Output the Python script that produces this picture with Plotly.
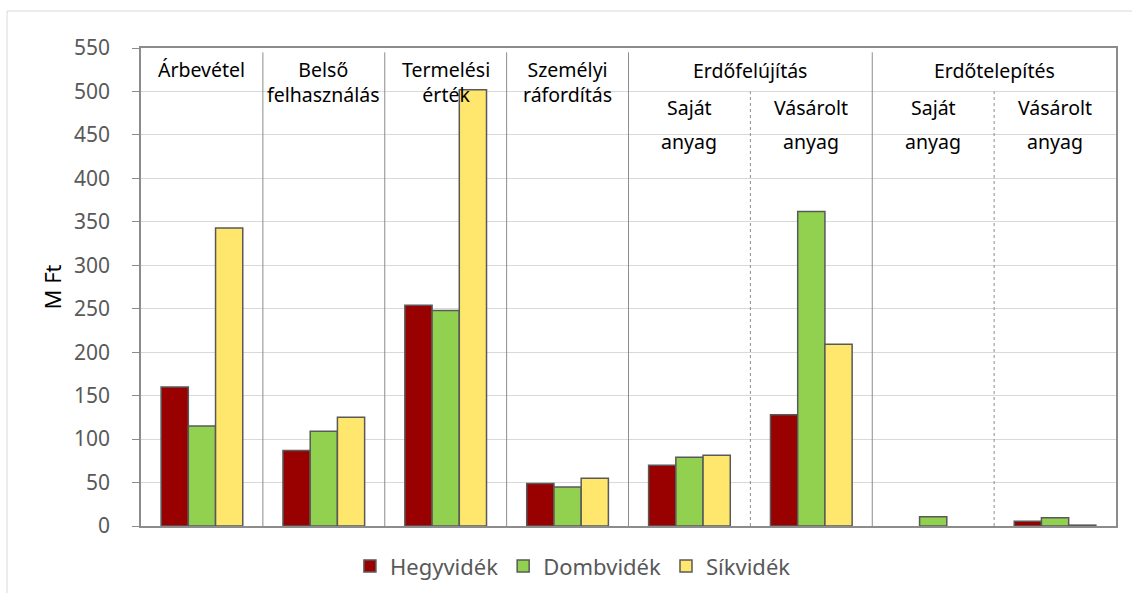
import plotly.graph_objects as go

slots = ["Árbevétel", "Belső felhasználás", "Termelési érték", "Személyi ráfordítás",
         "Erdőfelújítás saját anyag", "Erdőfelújítás vásárolt anyag",
         "Erdőtelepítés saját anyag", "Erdőtelepítés vásárolt anyag"]
series_names = ["Hegyvidék", "Dombvidék", "Síkvidék"]
hegyvidek = [160, 87, 254, 49, 70, 128, None, 5.5]
dombvidek = [115, 109, 248, 45, 79, 362, 10.5, 9.5]
sikvidek = [343, 125, 502, 55, 81.5, 209, None, 1]
colors = ["#990000", "#92D050", "#FFE66D"]
y_ticks = list(range(0, 551, 50))

# header labels: (x position in slot units, text)
single_headers = [(0, "Árbevétel<br> "), (1, "Belső<br>felhasználás"),
                  (2, "Termelési<br>érték"), (3, "Személyi<br>ráfordítás")]
group_headers = [(4.5, "Erdőfelújítás"), (6.5, "Erdőtelepítés")]
sub_headers = [(4, "Saját", "anyag"), (5, "Vásárolt", "anyag"),
               (6, "Saját", "anyag"), (7, "Vásárolt", "anyag")]
solid_seps = [0.5, 1.5, 2.5, 3.5, 5.5]
dashed_seps = [4.5, 6.5]

FONT = "Noto Sans"
xs = list(range(len(slots)))

fig = go.Figure()
for name, vals, col in zip(series_names, [hegyvidek, dombvidek, sikvidek], colors):
    fig.add_trace(go.Bar(x=xs, y=vals, name=name, marker=dict(color=col, line=dict(color="#595959", width=1.5))))

shapes = []
for s in solid_seps:
    shapes.append(dict(type="line", xref="x", yref="y", x0=s, x1=s, y0=0, y1=545,
                       line=dict(color="#8c8c8c", width=1)))
for s in dashed_seps:
    shapes.append(dict(type="line", xref="x", yref="y", x0=s, x1=s, y0=0, y1=500,
                       line=dict(color="#8c8c8c", width=1, dash="dot")))
# outer chart frame
shapes.append(dict(type="line", xref="paper", yref="paper", x0=-0.1374, x1=1.1, y0=1.0774, y1=1.0774,
                   line=dict(color="#d9d9d9", width=1)))
shapes.append(dict(type="line", xref="paper", yref="paper", x0=-0.1374, x1=-0.1374, y0=1.0774, y1=-0.3,
                   line=dict(color="#d9d9d9", width=1)))

annotations = []
hf = dict(family=FONT, size=19.5, color="#000000")
for x, t in single_headers:
    annotations.append(dict(x=x, y=543, xref="x", yref="y", text=t, showarrow=False, font=hf,
                            yanchor="top", align="center"))
for x, t in group_headers:
    annotations.append(dict(x=x, y=524, xref="x", yref="y", text=t, showarrow=False, font=hf, yanchor="middle"))
for x, l1, l2 in sub_headers:
    annotations.append(dict(x=x, y=482, xref="x", yref="y", text=l1, showarrow=False, font=hf, yanchor="middle"))
    annotations.append(dict(x=x, y=442, xref="x", yref="y", text=l2, showarrow=False, font=hf, yanchor="middle"))

fig.update_layout(
    width=1132, height=593,
    margin=dict(l=141, r=16, t=48, b=67, autoexpand=False),
    paper_bgcolor="white", plot_bgcolor="white",
    barmode="group", bargap=0.33, bargroupgap=0,
    font=dict(family=FONT, size=17, color="#595959"),
    showlegend=True,
    legend=dict(orientation="h", x=0.443, xanchor="center", y=-0.04, yanchor="top",
                font=dict(family=FONT, size=22, color="#595959"), itemwidth=30),
    xaxis=dict(range=[-0.5, 7.5], showticklabels=False, ticks="", showgrid=False,
               showline=True, linecolor="#8c8c8c", linewidth=1.5, mirror=True, zeroline=False),
    yaxis=dict(range=[0, 550], tickvals=y_ticks, showgrid=True, gridcolor="#d9d9d9", gridwidth=1,
               showline=True, linecolor="#8c8c8c", linewidth=1.5, mirror=True,
               ticks="outside", ticklen=7, tickcolor="#8c8c8c", zeroline=False,
               ticklabelstandoff=18,
               tickfont=dict(family=FONT, size=21, color="#595959"),
               title=dict(text="M Ft", font=dict(family=FONT, size=22, color="#000000"), standoff=6)),
    shapes=shapes, annotations=annotations,
)
fig.write_html("out.html", config={"displayModeBar": False},
               post_script="document.body.style.margin='0';document.body.style.overflow='hidden';")
